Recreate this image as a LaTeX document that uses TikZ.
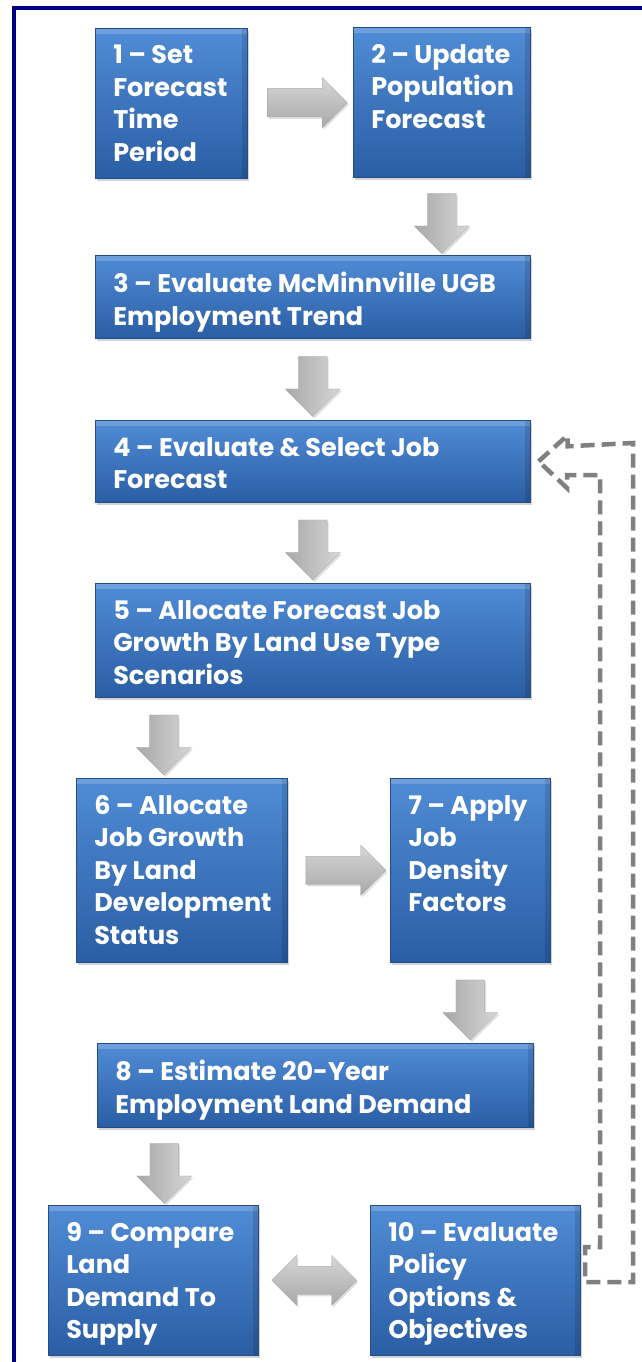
\documentclass[tikz,border=0pt]{standalone}
\usepackage{fontspec}
\setmainfont{Poppins}
\usetikzlibrary{shapes.arrows,shadows,calc}
\definecolor{boxtop}{RGB}{80,140,214}
\definecolor{boxbottom}{RGB}{42,94,164}
\definecolor{boxedge}{RGB}{36,76,136}
\definecolor{framenavy}{RGB}{0,0,128}
\definecolor{loopgray}{RGB}{128,128,128}
\definecolor{arrowdark}{RGB}{168,168,168}
\definecolor{arrowmid}{RGB}{214,214,214}
\definecolor{arrowlight}{RGB}{252,252,252}
\newcommand{\steptext}[3]{\parbox[c][#2pt][t]{#1pt}{\raggedright #3}}
\tikzset{
  stepbox/.style={
    anchor=north west,
    draw=boxedge,
    line width=0.6pt,
    top color=boxtop,
    bottom color=boxbottom,
    drop shadow={shadow xshift=2pt, shadow yshift=-3pt, opacity=0.35},
    path picture={
      \fill[white, opacity=0.18] (path picture bounding box.north west)
        rectangle ([yshift=-6pt]path picture bounding box.north east);
      \fill[black, opacity=0.12] ([xshift=-5pt]path picture bounding box.north east)
        rectangle (path picture bounding box.south east);
    },
    inner xsep=18pt,
    inner ysep=17pt,
    text=white,
    font=\fontsize{25.5}{32.5}\selectfont\bfseries
  },
  blockarrow/.style={
    draw=arrowdark,
    line width=0.3pt,
    inner sep=14pt,
    drop shadow={shadow xshift=1.5pt, shadow yshift=-2pt, opacity=0.25}
  },
  rightarrow/.style={
    blockarrow,
    single arrow,
    single arrow head extend=11pt,
    minimum width=50pt,
    minimum height=80pt,
    top color=arrowmid,
    middle color=arrowlight,
    bottom color=arrowdark
  },
  downarrow/.style={
    blockarrow,
    single arrow,
    shape border rotate=270,
    single arrow head extend=13pt,
    minimum width=55pt,
    minimum height=60pt,
    left color=arrowdark,
    middle color=arrowlight,
    right color=arrowmid
  },
  botharrow/.style={
    blockarrow,
    double arrow,
    double arrow head extend=11pt,
    minimum width=50pt,
    minimum height=85pt,
    top color=arrowmid,
    middle color=arrowlight,
    bottom color=arrowdark
  },
  feedback/.style={
    draw=loopgray,
    line width=4.5pt,
    dash pattern=on 14pt off 7pt
  }
}

\begin{document}
\begin{tikzpicture}[x=1pt,y=-1pt]
  \useasboundingbox (0,0) rectangle (641,1362);
  \draw[framenavy, line width=4pt] (14,8) rectangle (700,1400);

  % process steps
  \node[stepbox] (b1) at (95,28) {\steptext{116}{116}{1 -- Set\\Forecast\\Time\\Period}};
  \node[stepbox] (b2) at (353,27) {\steptext{141}{116}{2 -- Update\\Population\\Forecast}};
  \node[stepbox] (b3) at (95,255) {\steptext{399}{49}{3 -- Evaluate McMinnville UGB\\Employment Trend}};
  \node[stepbox] (b4) at (95,420) {\steptext{399}{48}{4 -- Evaluate \& Select Job\\Forecast}};
  \node[stepbox] (b5) at (95,583) {\steptext{399}{80}{5 -- Allocate Forecast Job\\Growth By Land Use Type\\Scenarios}};
  \node[stepbox] (b6) at (76,778) {\steptext{175}{150}{6 -- Allocate\\Job Growth\\By Land\\Development\\Status}};
  \node[stepbox] (b7) at (390,778) {\steptext{124}{150}{7 -- Apply\\Job\\Density\\Factors}};
  \node[stepbox] (b8) at (97,1043) {\steptext{400}{50}{8 -- Estimate 20-Year\\Employment Land Demand}};
  \node[stepbox] (b9) at (48,1205) {\steptext{174}{116}{9 -- Compare\\Land\\Demand To\\Supply}};
  \node[stepbox] (b10) at (370,1205) {\steptext{174}{116}{10 -- Evaluate\\Policy\\Options \&\\Objectives}};

  % gray block arrows
  \path (b1.east) -- node[rightarrow] {} (b2.west);
  \path (b2.south) -- node[downarrow] {} (b2.south |- b3.north);
  \path (b3.south) -- node[downarrow] {} (b4.north);
  \path (b4.south) -- node[downarrow] {} (b5.north);
  \path ([xshift=-18pt]b5.south -| b6.north) -- node[downarrow] {} ([xshift=-18pt]b6.north);
  \path (b6.east) -- node[rightarrow] {} (b7.west);
  \path (b7.south) -- node[downarrow] {} (b7.south |- b8.north);
  \path ([xshift=11pt]b8.south -| b9.north) -- node[downarrow] {} ([xshift=11pt]b9.north);
  \path (b9.east) -- node[botharrow] {} (b10.west);

  % dashed loop back to step 4
  \coordinate (looptip) at ([xshift=8pt]b4.east);
  \draw[feedback] (looptip) -- ++(29,-26) -- ++(0,11) -- (633,443) -- (633,1282)
    -- (585,1282) -- (585,1247) -- (600,1247) -- (600,475) -- (567,475)
    -- (567,488) -- cycle;
\end{tikzpicture}
\end{document}
